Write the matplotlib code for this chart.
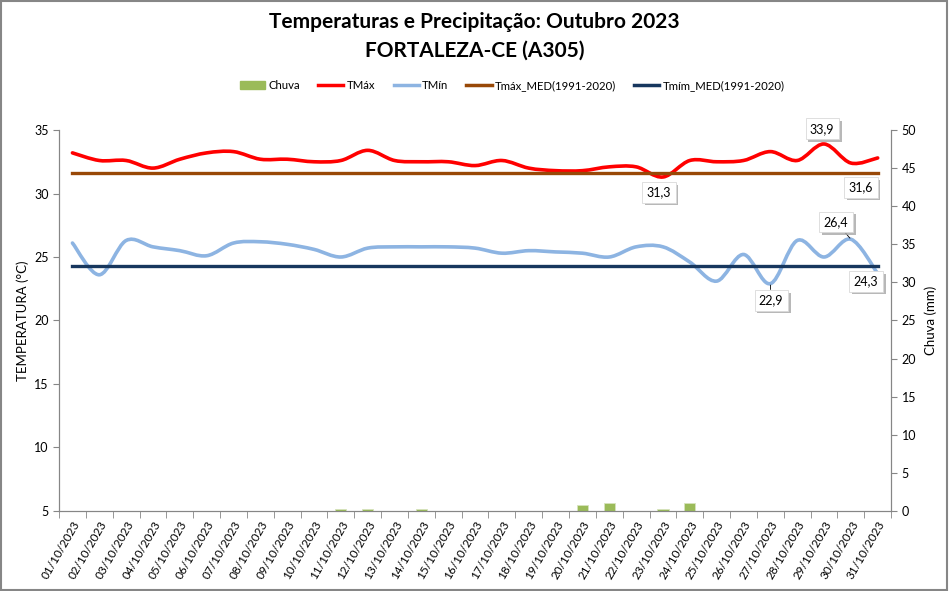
import matplotlib.pyplot as plt
import numpy as np
from matplotlib.path import Path
from matplotlib.patches import PathPatch, Patch
from matplotlib.lines import Line2D
import matplotlib.patheffects as pe

dias = ['%02d/10/2023' % d for d in range(1, 32)]
tmax = [33.2, 32.6, 32.6, 32.0, 32.7, 33.2, 33.3, 32.7, 32.7, 32.5, 32.6, 33.4, 32.6, 32.5, 32.5, 32.2,
        32.6, 32.0, 31.8, 31.8, 32.1, 32.1, 31.3, 32.6, 32.5, 32.6, 33.3, 32.6, 33.9, 32.4, 32.8]
tmin = [26.1, 23.6, 26.3, 25.8, 25.5, 25.1, 26.1, 26.2, 26.0, 25.6, 25.0, 25.7, 25.8, 25.8, 25.8, 25.7,
        25.3, 25.5, 25.4, 25.3, 25.0, 25.8, 25.8, 24.6, 23.1, 25.2, 22.9, 26.3, 25.0, 26.4, 23.7]
chuva = [0, 0, 0, 0, 0, 0, 0, 0, 0, 0, 0.2, 0.2, 0, 0.2, 0, 0,
         0, 0, 0, 0.8, 1.1, 0, 0.3, 1.1, 0, 0, 0, 0, 0, 0, 0]
tmax_med = 31.6
tmin_med = 24.3

x = np.arange(1, 32)

def smooth(ax, xs, ys, **kw):
    # excel-like smoothed line drawn as cubic bezier through the points
    p = np.column_stack([xs, ys]).astype(float)
    ext = np.vstack([p[0], p, p[-1]])
    verts = [p[0]]
    codes = [Path.MOVETO]
    for i in range(len(p) - 1):
        p0, p1, p2, p3 = ext[i], ext[i + 1], ext[i + 2], ext[i + 3]
        verts += [p1 + (p2 - p0) / 6, p2 - (p3 - p1) / 6, p2]
        codes += [Path.CURVE4] * 3
    ax.add_patch(PathPatch(Path(verts, codes), fill=False, capstyle='round', **kw))

plt.rcParams['font.family'] = ['Lato', 'DejaVu Sans']
fig = plt.figure(figsize=(9.49, 5.91), dpi=100)
ax = fig.add_axes([0.0622, 0.1354, 0.8768, 0.6446])
ax2 = ax.twinx()

gray = '#868686'
c_red, c_blue, c_brown, c_navy, c_green = '#FF0000', '#8DB4E2', '#984807', '#17375E', '#9BBB59'

ax2.bar(x, chuva, width=0.42, color=c_green, edgecolor='#D7E4BD', linewidth=0.6)
ax2.set_ylim(0, 50)
ax2.set_yticks(np.arange(0, 51, 5))

ax.set_zorder(ax2.get_zorder() + 1)
ax.patch.set_visible(False)

smooth(ax, x, tmax, color=c_red, lw=2.6)
smooth(ax, x, tmin, color=c_blue, lw=2.6)
ax.plot(x, [tmax_med] * 31, color=c_brown, lw=2.4)
ax.plot(x, [tmin_med] * 31, color=c_navy, lw=2.4)

ax.set_xlim(0.5, 31.5)
ax.set_ylim(5, 35)
ax.set_yticks(np.arange(5, 36, 5))
ax.set_xticks(x)
ax.set_xticklabels(dias, rotation=60, ha='right', rotation_mode='anchor', fontsize=8.5)
ax.set_xticks(np.arange(0.5, 32, 1), minor=True)
ax.tick_params(axis='x', which='major', length=0, pad=6)
ax.tick_params(axis='x', which='minor', length=5, color=gray, direction='out')
ax.tick_params(axis='y', length=4, color=gray, labelsize=9)
ax2.tick_params(axis='y', length=4, color=gray, labelsize=9)

for a in (ax, ax2):
    a.spines['top'].set_visible(False)
    for s in ('left', 'right', 'bottom'):
        a.spines[s].set_color(gray)
ax.set_ylabel('TEMPERATURA (°C)', fontsize=9.5, labelpad=4)
ax2.set_ylabel('Chuva (mm)', fontsize=9.5, labelpad=6)

rotulos = [(29, 33.9, 28.93, 35.1, False), (23, 31.3, 22.85, 30.1, False), (31, 31.6, 30.38, 30.5, False),
           (30, 26.4, 29.45, 27.76, True), (27, 22.9, 27.03, 21.6, True), (31, 24.3, 30.57, 23.1, False)]
for xd, val, xt, yt, seta in rotulos:
    txt = ('%.1f' % val).replace('.', ',')
    t = ax.annotate(txt, (xd, val), xytext=(xt, yt), ha='center', va='center', fontsize=9, zorder=6,
                    annotation_clip=False,
                    bbox=dict(boxstyle='square,pad=0.35', fc='white', ec='#D9D9D9', lw=0.6),
                    arrowprops=dict(arrowstyle='-', color='black', lw=0.6, shrinkA=0, shrinkB=1) if seta else None)
    t.get_bbox_patch().set_path_effects([pe.SimplePatchShadow(offset=(2, -2), shadow_rgbFace='#A6A6A6', alpha=0.8),
                                         pe.Normal()])

handles = [Patch(color=c_green), Line2D([], [], color=c_red, lw=2.5), Line2D([], [], color=c_blue, lw=2.5),
           Line2D([], [], color=c_brown, lw=2.5), Line2D([], [], color=c_navy, lw=2.5)]
labels = ['Chuva', 'TMáx', 'TMín', 'Tmáx_MED(1991-2020)', 'Tmím_MED(1991-2020)']
fig.legend(handles, labels, loc='center', bbox_to_anchor=(0.54, 0.855), ncol=5, frameon=False,
           fontsize=8.2, handlelength=2.2, columnspacing=1.6, handletextpad=0.3)

fig.text(0.5, 0.962, 'Temperaturas e Precipitação: Outubro 2023', ha='center', va='center',
         fontsize=15, fontweight='bold')
fig.text(0.5, 0.915, 'FORTALEZA-CE (A305)', ha='center', va='center',
         fontsize=15, fontweight='bold')

fig.patches.append(plt.Rectangle((0.001, 0.001), 0.997, 0.997, transform=fig.transFigure,
                                 fill=False, ec=gray, lw=1.5))
fig.savefig('out.png', dpi=100)
